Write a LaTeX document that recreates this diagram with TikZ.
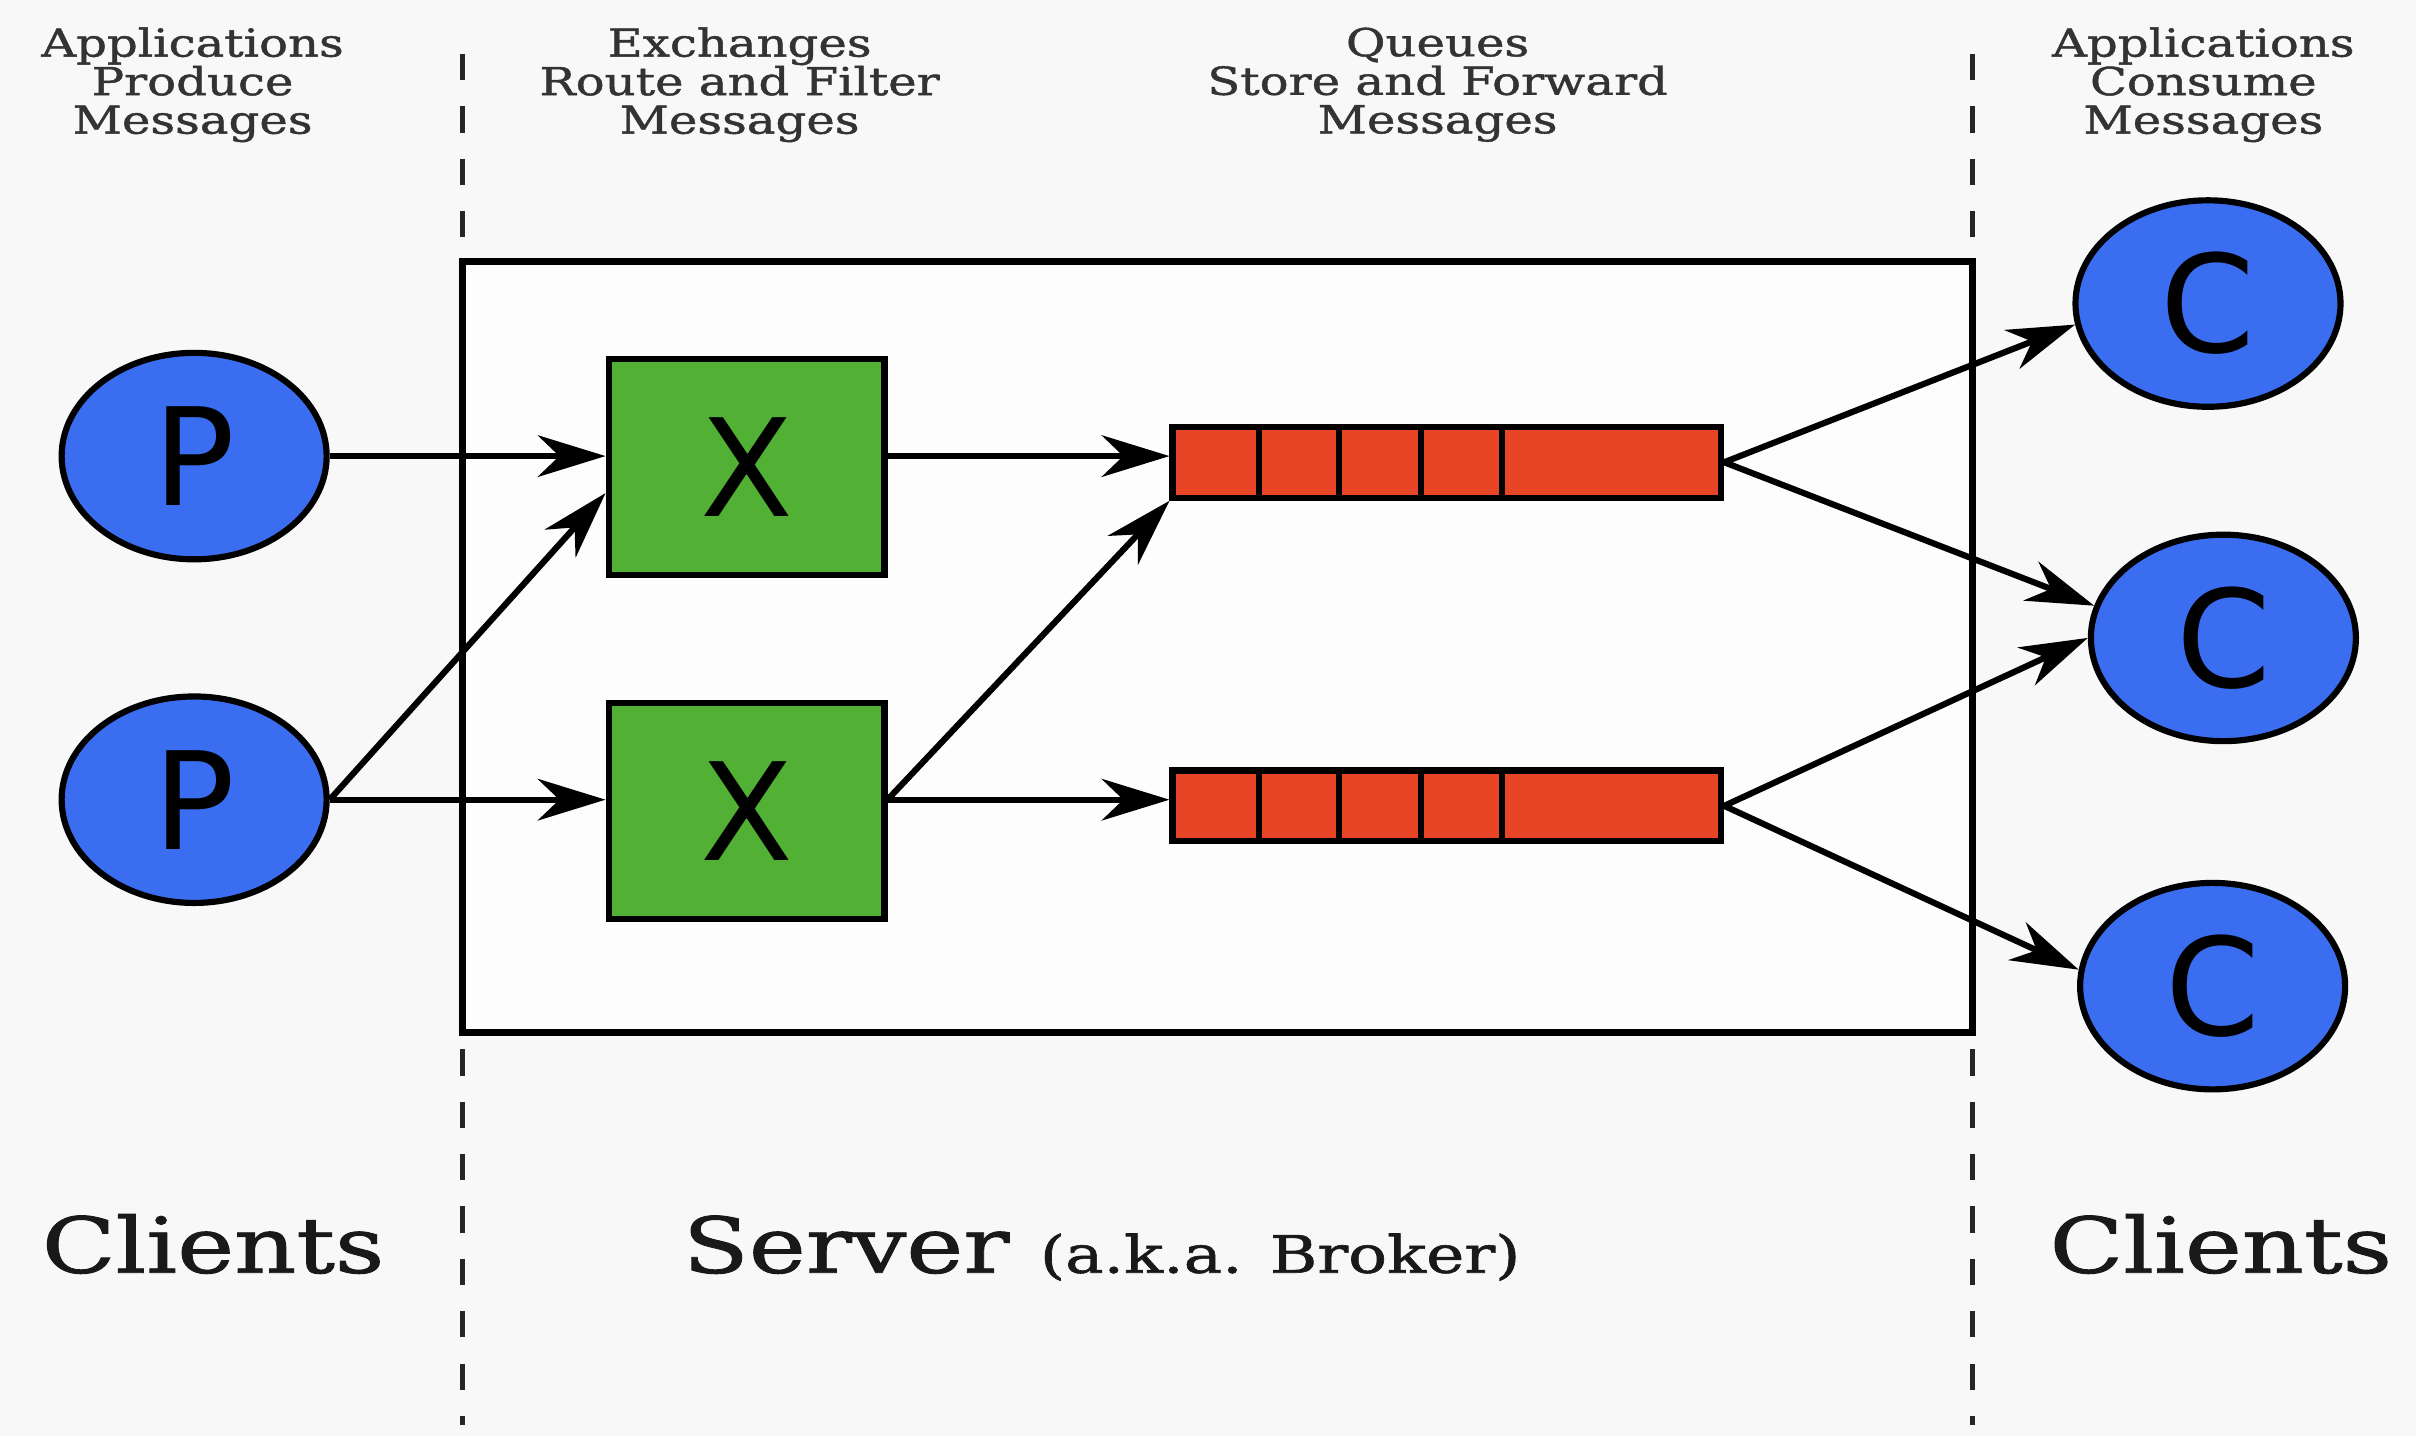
\documentclass[tikz,border=0pt]{standalone}
\usepackage{fontspec}
\setmainfont{DejaVu Serif}
\newfontfamily\slab[FakeStretch=1.25,FakeBold=1.2]{DejaVu Serif}
\newfontfamily\letterfont{DejaVu Sans}
\usetikzlibrary{shapes.geometric,arrows.meta,calc}
\definecolor{bg}{HTML}{F7F8F7}
\definecolor{boxbg}{HTML}{FDFDFD}
\definecolor{pblue}{HTML}{3A6DF0}
\definecolor{xgreen}{HTML}{52B035}
\definecolor{qred}{HTML}{E84526}
\definecolor{hdr}{HTML}{333333}
\begin{document}
\begin{tikzpicture}[x=1pt,y=-1pt,
  client/.style={ellipse,draw=black,line width=4pt,fill=pblue,minimum width=172pt,minimum height=134pt,inner sep=0pt,font=\letterfont\fontsize{88}{88}\selectfont},
  exch/.style={rectangle,draw=black,line width=4pt,fill=xgreen,minimum width=179pt,minimum height=140pt,inner sep=0pt,font=\letterfont\fontsize{88}{88}\selectfont},
  queue/.style={rectangle,draw=black,line width=4pt,fill=qred,minimum width=356pt,minimum height=46pt,inner sep=0pt},
  cell/.style={line width=4pt},
  flow/.style={line width=4pt,-{Stealth[length=44pt,width=27pt,inset=14pt]}},
  divider/.style={line width=3pt,dash pattern=on 17pt off 17pt,color=black!85},
  header/.style={align=center,text=hdr,font=\slab\fontsize{25}{25}\selectfont,inner sep=0pt},
  bigtext/.style={anchor=base west,inner sep=0pt,text=black!90,font=\slab\fontsize{50}{50}\selectfont}
]
\fill[bg] (0,0) rectangle (1568,932);
\useasboundingbox (0,0) rectangle (1568,932);

% dashed separators
\coordinate (d1t) at (300,35);
\coordinate (d1b) at (300,925);
\coordinate (d2t) at (1280,35);
\coordinate (d2b) at (1280,925);
\draw[divider] (d1t) -- (d1b);
\draw[divider] (d2t) -- (d2b);

% server box
\node[draw=black,line width=4.5pt,fill=boxbg,minimum width=980pt,minimum height=500pt,inner sep=0pt,outer sep=0pt] (server) at (790,420) {};

% headers
\node[header] (h1) at (125,55) {Applications\\Produce\\Messages};
\node[header] (h2) at (480,55) {Exchanges\\Route and Filter\\Messages};
\node[header] (h3) at (933,55) {Queues\\Store and Forward\\Messages};
\node[header] (h4) at (1430,55) {Applications\\Consume\\Messages};

% bottom labels
\node[bigtext] (cl1) at (27,826) {Clients};
\node[bigtext] (srv) at (443,826) {Server {\fontsize{33.5}{33.5}\selectfont (a.k.a. Broker)}};
\node[bigtext] (cl2) at (1330,826) {Clients};

% producers
\node[client] (P1) at (126,296) {P};
\node[client] (P2) at (126,519) {P};

% exchanges
\node[exch] (X1) at (484.5,303) {X};
\node[exch] (X2) at (484.5,526.5) {X};

% queues
\node[queue] (Q1) at (939,300) {};
\node[queue] (Q2) at (939,523) {};
\foreach \x in {817,869,922,975}{
  \draw[cell] (\x,277) -- (\x,323);
  \draw[cell] (\x,500) -- (\x,546);
}

% consumers
\node[client] (C1) at (1433,197) {C};
\node[client] (C2) at (1443,414) {C};
\node[client] (C3) at (1436,640) {C};

% connectors
\draw[flow] (P1.east) -- (P1.east -| X1.west);
\draw[flow] (P2.east) -- ($(X1.west)+(0,17)$);
\draw[flow] (P2.east) -- (P2.east -| X2.west);
\draw[flow] (X1.east |- P1.east) -- (Q1.west |- P1.east);
\draw[flow] (X2.east |- P2.east) -- (Q1.south west);
\draw[flow] (X2.east |- P2.east) -- (Q2.west |- P2.east);
\draw[flow] (Q1.east) -- (C1.189);
\draw[flow] (Q1.east) -- (C2.166);
\draw[flow] (Q2.east) -- (C2.180);
\draw[flow] (Q2.east) -- (C3.173);
\end{tikzpicture}
\end{document}
